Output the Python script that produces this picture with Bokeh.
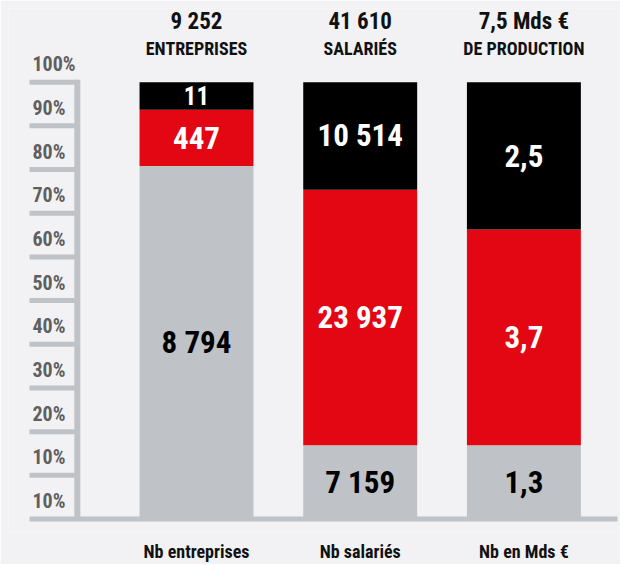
from bokeh.plotting import figure
from bokeh.models import ColumnDataSource, Range1d, FixedTicker
from bokeh.core.properties import value
from bokeh.embed import file_html
from bokeh.resources import INLINE

# ---- data -------------------------------------------------------------
categories = ["Nb entreprises", "Nb salariés", "Nb en Mds €"]
totals = ["9 252", "41 610", "7,5 Mds €"]
total_units = ["ENTREPRISES", "SALARIÉS", "DE PRODUCTION"]

# share of each bar as drawn (percent of bar height), bottom -> top
share_gray = [80.8, 16.9, 16.9]
share_red = [12.9, 58.5, 49.4]
share_black = [6.3, 24.6, 33.7]

label_gray = ["8 794", "7 159", "1,3"]
label_red = ["447", "23 937", "3,7"]
label_black = ["11", "10 514", "2,5"]

pct_ticks = [0, 10, 20, 30, 40, 50, 60, 70, 80, 90, 100]
pct_labels = ["10%", "10%", "20%", "30%", "40%", "50%", "60%", "70%", "80%", "90%", "100%"]

# ---- style ------------------------------------------------------------
BG = "#f2f2f4"
GRAY = "#bfc2c6"
RED = "#e30613"
BLACK = "#000000"
AXIS_TXT = "#5f5f61"
DARK = "#111111"
FONT = "Roboto Condensed, Liberation Sans Narrow, Roboto, sans-serif"

xs = list(range(1, len(categories) + 1))
BAR_W = 0.696

p = figure(
    frame_width=612, frame_height=523,
    x_range=Range1d(-0.1485, 3.5901), y_range=Range1d(-2.86, 116.87),
    output_backend="svg", toolbar_location=None,
    y_axis_location=None,
    min_border_left=8, min_border_right=0, min_border_top=8, min_border_bottom=0,
)
p.background_fill_color = BG
p.border_fill_color = BG
p.outline_line_color = None
p.xgrid.grid_line_color = None
p.ygrid.grid_line_color = None

# ---- bars ------------------------------------------------------------
g_top = [g for g in share_gray]
r_top = [g + r for g, r in zip(share_gray, share_red)]
b_top = [g + r + b for g, r, b in zip(share_gray, share_red, share_black)]
zeros = [0] * len(xs)

src = ColumnDataSource(dict(
    x=xs, zero=zeros, g_top=g_top, r_top=r_top, b_top=b_top,
    g_mid=[(0 + t) / 2 for t in g_top],
    r_mid=[(a + b) / 2 for a, b in zip(g_top, r_top)],
    b_mid=[(a + b) / 2 for a, b in zip(r_top, b_top)],
    label_gray=label_gray, label_red=label_red, label_black=label_black,
    black_size=["31px" if s > 10 else "25px" for s in share_black],
    red_size=["31px" if s > 10 else "25px" for s in share_red],
    totals=totals, units=total_units,
))

p.vbar(x="x", bottom="zero", top="g_top", width=BAR_W, source=src,
       fill_color=GRAY, line_color=None)
p.vbar(x="x", bottom="g_top", top="r_top", width=BAR_W, source=src,
       fill_color=RED, line_color=None)
p.vbar(x="x", bottom="r_top", top="b_top", width=BAR_W, source=src,
       fill_color=BLACK, line_color=None)

common = dict(text_align="center", text_baseline="middle",
              text_font=value(FONT), text_font_style="bold")
p.text(x="x", y="g_mid", text="label_gray", source=src, text_color=BLACK,
       text_font_size="31px", **common)
p.text(x="x", y="r_mid", text="label_red", source=src, text_color="white",
       text_font_size="red_size", **common)
p.text(x="x", y="b_mid", text="label_black", source=src, text_color="white",
       text_font_size="black_size", **common)

# header totals
top_val = pct_ticks[-1]
p.text(x="x", y=top_val, text="totals", source=src, text_color=DARK,
       text_font_size="23px", y_offset=-61, **common)
p.text(x="x", y=top_val, text="units", source=src, text_color=DARK,
       text_font_size="18px", y_offset=-34, **common)

# ---- custom left scale ------------------------------------------------
AX = 0.272      # vertical axis line (data x)
TICK_X0 = -0.0202
END_X = 3.572

lab_src = ColumnDataSource(dict(
    x=[TICK_X0] * len(pct_labels),
    y=[t + 5 for t in pct_ticks],
    text=pct_labels,
))
p.text(x="x", y="y", text="text", source=lab_src, text_align="left",
       text_baseline="middle", x_offset=3, y_offset=4,
       text_font=value(FONT), text_font_style="bold",
       text_font_size="20px", text_color=AXIS_TXT)

# vertical axis line
p.line(x=[AX, AX], y=[pct_ticks[0], pct_ticks[-1] + 0.55], line_color=GRAY, line_width=6)
# tick combs
tick_vals = pct_ticks[1:]
p.multi_line(xs=[[TICK_X0, AX] for _ in tick_vals], ys=[[t, t] for t in tick_vals],
             line_color=GRAY, line_width=5)
# baseline
p.line(x=[TICK_X0, END_X], y=[pct_ticks[0], pct_ticks[0]], line_color=GRAY, line_width=5)

# ---- category axis ----------------------------------------------------
xa = p.xaxis[0]
xa.ticker = FixedTicker(ticks=xs)
xa.major_label_overrides = {x: c for x, c in zip(xs, categories)}
xa.axis_line_color = None
xa.major_tick_line_color = None
xa.minor_tick_line_color = None
xa.major_tick_out = 0
xa.major_tick_in = 0
xa.major_label_standoff = 9
xa.major_label_text_font = FONT
xa.major_label_text_font_style = "bold"
xa.major_label_text_font_size = "18px"
xa.major_label_text_color = DARK

open("out.html", "w").write(file_html(p, INLINE))
